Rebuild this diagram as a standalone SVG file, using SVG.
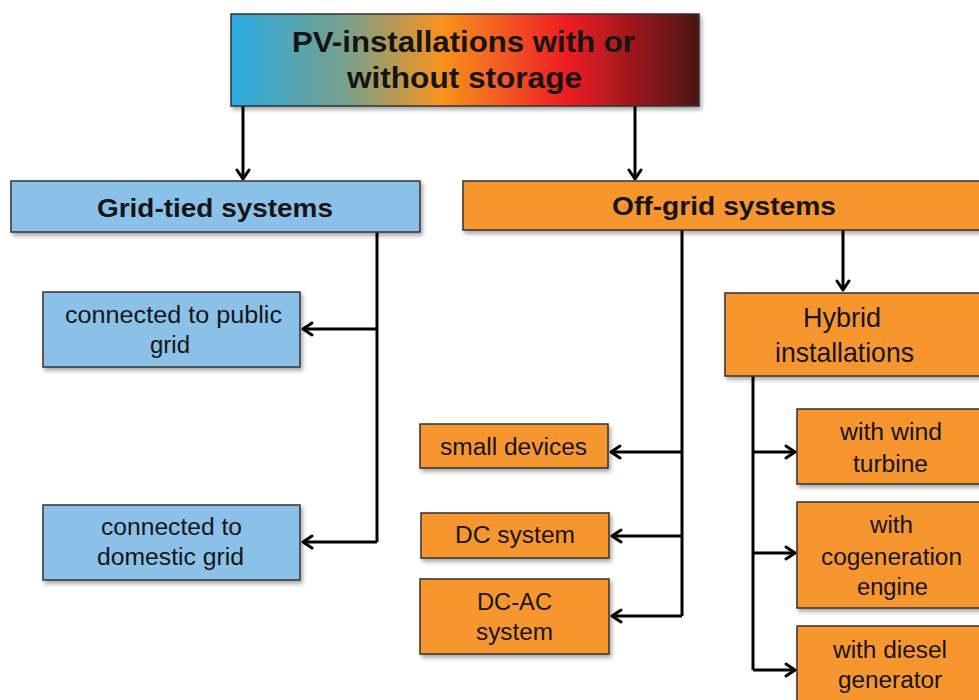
<svg xmlns="http://www.w3.org/2000/svg" width="979" height="700" viewBox="0 0 979 700">
<defs>
<linearGradient id="g" x1="0" y1="0" x2="1" y2="0">
<stop offset="0" stop-color="#29abe2"/>
<stop offset="0.25" stop-color="#7aa08a"/>
<stop offset="0.45" stop-color="#f7931e"/>
<stop offset="0.72" stop-color="#ed1c24"/>
<stop offset="1" stop-color="#4a1616"/>
</linearGradient>
<filter id="sh" x="-5%" y="-10%" width="115%" height="130%">
<feGaussianBlur in="SourceAlpha" stdDeviation="2"/>
<feOffset dx="2" dy="3" result="b"/>
<feComponentTransfer><feFuncA type="linear" slope="0.35"/></feComponentTransfer>
<feMerge><feMergeNode/><feMergeNode in="SourceGraphic"/></feMerge>
</filter>
<marker id="ah" markerWidth="16" markerHeight="16" viewBox="0 0 16 16" refX="13" refY="8" orient="auto" markerUnits="userSpaceOnUse">
<path d="M4,2 L13,8 L4,14" fill="none" stroke="#000" stroke-width="3" stroke-linecap="round" stroke-linejoin="round"/>
</marker>
<style>
.box{stroke:#333;stroke-width:1.5;filter:url(#sh)}
.blue{fill:#8bc1e9}
.orange{fill:#f7962f}
.t{font-family:"Liberation Sans",Arial,sans-serif;fill:#151515;text-anchor:middle}
.b{font-weight:bold}
.s{font-size:23px}
.c{fill:none;stroke:#000;stroke-width:3}
</style>
</defs>
<rect width="979" height="700" fill="#fff"/>
<g id="connectors">
<path class="c" d="M243,106 V179" marker-end="url(#ah)"/>
<path class="c" d="M635,106 V179" marker-end="url(#ah)"/>
<path class="c" d="M377,232 V542"/>
<path class="c" d="M377,329 H303" marker-end="url(#ah)"/>
<path class="c" d="M377,542 H303" marker-end="url(#ah)"/>
<path class="c" d="M682,230 V616"/>
<path class="c" d="M682,452 H611" marker-end="url(#ah)"/>
<path class="c" d="M682,536 H612" marker-end="url(#ah)"/>
<path class="c" d="M682,616 H612" marker-end="url(#ah)"/>
<path class="c" d="M843,230 V290" marker-end="url(#ah)"/>
<path class="c" d="M753,376 V670"/>
<path class="c" d="M753,452 H795" marker-end="url(#ah)"/>
<path class="c" d="M753,553 H795" marker-end="url(#ah)"/>
<path class="c" d="M753,670 H795" marker-end="url(#ah)"/>
</g>
<g id="root">
<rect class="box" x="231" y="14" width="468" height="92" fill="url(#g)"/>
<text class="t b" x="463.5" y="52" font-size="29" textLength="343" lengthAdjust="spacingAndGlyphs">PV-installations with or</text>
<text class="t b" x="464.5" y="88" font-size="29" textLength="235" lengthAdjust="spacingAndGlyphs">without storage</text>
</g>
<g id="grid-tied">
<rect class="box blue" x="11" y="181" width="409" height="51"/>
<text class="t b" x="215" y="217" font-size="26" textLength="236" lengthAdjust="spacingAndGlyphs">Grid-tied systems</text>
</g>
<g id="off-grid">
<rect class="box orange" x="463" y="181" width="520" height="49"/>
<text class="t b" x="724" y="215" font-size="26" textLength="224" lengthAdjust="spacingAndGlyphs">Off-grid systems</text>
</g>
<g id="public-grid">
<rect class="box blue" x="43" y="292" width="257" height="75"/>
<text class="t s" x="173.5" y="323" textLength="217" lengthAdjust="spacingAndGlyphs">connected to public</text>
<text class="t s" x="170" y="353" textLength="40" lengthAdjust="spacingAndGlyphs">grid</text>
</g>
<g id="domestic-grid">
<rect class="box blue" x="43" y="505" width="257" height="75"/>
<text class="t s" x="171.5" y="535" textLength="141" lengthAdjust="spacingAndGlyphs">connected to</text>
<text class="t s" x="170.5" y="565" textLength="147" lengthAdjust="spacingAndGlyphs">domestic grid</text>
</g>
<g id="small-devices">
<rect class="box orange" x="420" y="424" width="188" height="44"/>
<text class="t s" x="513.5" y="455" textLength="147" lengthAdjust="spacingAndGlyphs">small devices</text>
</g>
<g id="dc-system">
<rect class="box orange" x="421" y="513" width="188" height="45"/>
<text class="t s" x="515" y="543" textLength="120" lengthAdjust="spacingAndGlyphs">DC system</text>
</g>
<g id="dc-ac-system">
<rect class="box orange" x="420" y="579" width="189" height="75"/>
<text class="t s" x="514.5" y="610" textLength="75" lengthAdjust="spacingAndGlyphs">DC-AC</text>
<text class="t s" x="514.5" y="640" textLength="77" lengthAdjust="spacingAndGlyphs">system</text>
</g>
<g id="hybrid">
<rect class="box orange" x="725" y="293" width="258" height="83"/>
<text class="t" x="842" y="327" font-size="28" textLength="78" lengthAdjust="spacingAndGlyphs">Hybrid</text>
<text class="t" x="844.5" y="362" font-size="28" textLength="139" lengthAdjust="spacingAndGlyphs">installations</text>
</g>
<g id="wind">
<rect class="box orange" x="797" y="409" width="186" height="75"/>
<text class="t s" x="891" y="440" textLength="102" lengthAdjust="spacingAndGlyphs">with wind</text>
<text class="t s" x="890.5" y="472" textLength="75" lengthAdjust="spacingAndGlyphs">turbine</text>
</g>
<g id="cogeneration">
<rect class="box orange" x="797" y="502" width="186" height="106"/>
<text class="t s" x="891.5" y="533" textLength="43" lengthAdjust="spacingAndGlyphs">with</text>
<text class="t s" x="891.5" y="565" textLength="141" lengthAdjust="spacingAndGlyphs">cogeneration</text>
<text class="t s" x="892.5" y="595" textLength="71" lengthAdjust="spacingAndGlyphs">engine</text>
</g>
<g id="diesel">
<rect class="box orange" x="797" y="626" width="186" height="80"/>
<text class="t s" x="890" y="658" textLength="114" lengthAdjust="spacingAndGlyphs">with diesel</text>
<text class="t s" x="890" y="688" textLength="104" lengthAdjust="spacingAndGlyphs">generator</text>
</g>
</svg>
